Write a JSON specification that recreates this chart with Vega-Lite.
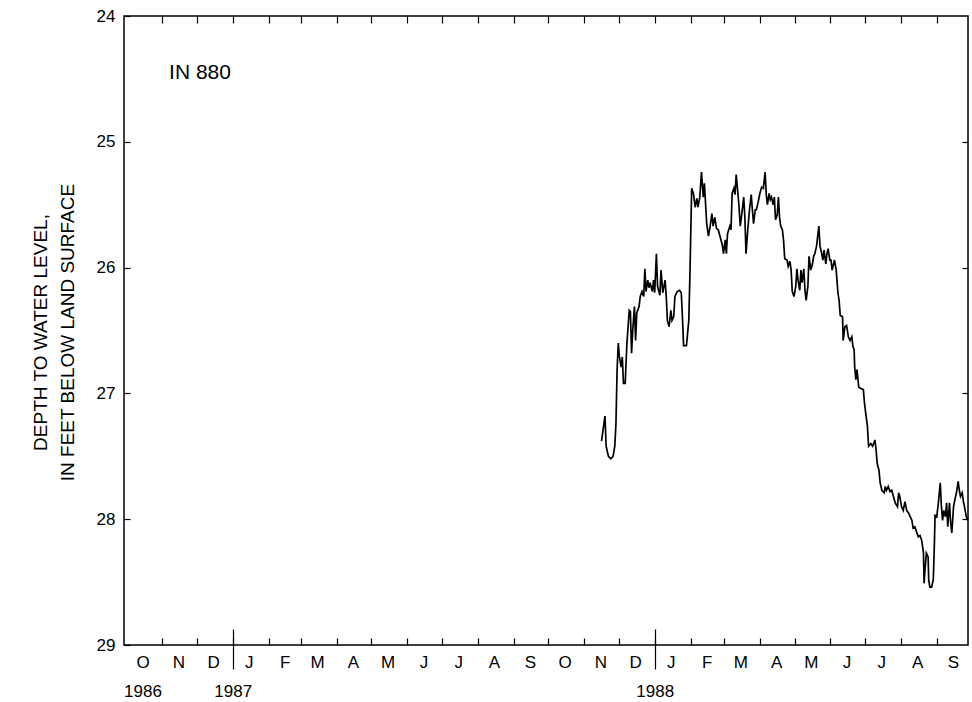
{
  "$schema": "https://vega.github.io/schema/vega-lite/v6.json",
  "autosize": {"type": "none"},
  "padding": {"left": 124, "top": 16, "right": 4, "bottom": 57},
  "width": 844,
  "height": 629,
  "background": "white",
  "config": {
    "font": "Liberation Sans",
    "view": {"stroke": "black", "strokeWidth": 1.5},
    "axis": {"labelColor": "black", "tickColor": "black", "titleColor": "black", "labelFont": "Liberation Sans", "titleFont": "Liberation Sans", "titleFontWeight": "normal", "grid": false, "domain": false, "tickWidth": 1.2}
  },
  "data": {"values": [
    {"date": "1987-11-16T00:00", "depth": 27.38},
    {"date": "1987-11-19T00:00", "depth": 27.18},
    {"date": "1987-11-20T00:00", "depth": 27.42},
    {"date": "1987-11-22T00:00", "depth": 27.50},
    {"date": "1987-11-24T00:00", "depth": 27.52},
    {"date": "1987-11-26T00:00", "depth": 27.50},
    {"date": "1987-11-27T12:00", "depth": 27.42},
    {"date": "1987-11-28T12:00", "depth": 27.24},
    {"date": "1987-11-29T12:00", "depth": 26.81},
    {"date": "1987-11-30T12:00", "depth": 26.60},
    {"date": "1987-12-01T12:00", "depth": 26.71},
    {"date": "1987-12-03T00:00", "depth": 26.79},
    {"date": "1987-12-04T00:00", "depth": 26.71},
    {"date": "1987-12-05T00:00", "depth": 26.92},
    {"date": "1987-12-06T12:00", "depth": 26.92},
    {"date": "1987-12-07T00:00", "depth": 26.81},
    {"date": "1987-12-08T00:00", "depth": 26.60},
    {"date": "1987-12-10T00:00", "depth": 26.34},
    {"date": "1987-12-11T00:00", "depth": 26.35},
    {"date": "1987-12-12T00:00", "depth": 26.68},
    {"date": "1987-12-13T00:00", "depth": 26.50},
    {"date": "1987-12-14T12:00", "depth": 26.31},
    {"date": "1987-12-15T12:00", "depth": 26.58},
    {"date": "1987-12-16T12:00", "depth": 26.36},
    {"date": "1987-12-18T12:00", "depth": 26.31},
    {"date": "1987-12-19T12:00", "depth": 26.23},
    {"date": "1987-12-21T00:00", "depth": 26.19},
    {"date": "1987-12-22T12:00", "depth": 26.23},
    {"date": "1987-12-23T12:00", "depth": 26.01},
    {"date": "1987-12-24T12:00", "depth": 26.19},
    {"date": "1987-12-26T00:00", "depth": 26.10},
    {"date": "1987-12-27T00:00", "depth": 26.16},
    {"date": "1987-12-28T00:00", "depth": 26.12},
    {"date": "1987-12-30T00:00", "depth": 26.19},
    {"date": "1987-12-31T00:00", "depth": 26.10},
    {"date": "1988-01-01T00:00", "depth": 26.20},
    {"date": "1988-01-02T12:00", "depth": 25.89},
    {"date": "1988-01-03T12:00", "depth": 26.15},
    {"date": "1988-01-05T12:00", "depth": 26.22},
    {"date": "1988-01-06T12:00", "depth": 26.02},
    {"date": "1988-01-08T00:00", "depth": 26.20},
    {"date": "1988-01-10T00:00", "depth": 26.10},
    {"date": "1988-01-11T00:00", "depth": 26.23},
    {"date": "1988-01-12T00:00", "depth": 26.42},
    {"date": "1988-01-13T12:00", "depth": 26.47},
    {"date": "1988-01-15T00:00", "depth": 26.34},
    {"date": "1988-01-16T00:00", "depth": 26.42},
    {"date": "1988-01-17T12:00", "depth": 26.39},
    {"date": "1988-01-18T12:00", "depth": 26.23},
    {"date": "1988-01-20T12:00", "depth": 26.19},
    {"date": "1988-01-22T12:00", "depth": 26.18},
    {"date": "1988-01-24T00:00", "depth": 26.20},
    {"date": "1988-01-25T00:00", "depth": 26.39},
    {"date": "1988-01-26T00:00", "depth": 26.62},
    {"date": "1988-01-28T12:00", "depth": 26.62},
    {"date": "1988-01-30T12:00", "depth": 26.42},
    {"date": "1988-01-31T12:00", "depth": 26.05},
    {"date": "1988-02-02T00:00", "depth": 25.37},
    {"date": "1988-02-03T12:00", "depth": 25.41},
    {"date": "1988-02-05T00:00", "depth": 25.52},
    {"date": "1988-02-06T12:00", "depth": 25.45},
    {"date": "1988-02-07T12:00", "depth": 25.52},
    {"date": "1988-02-09T00:00", "depth": 25.44},
    {"date": "1988-02-10T12:00", "depth": 25.24},
    {"date": "1988-02-12T00:00", "depth": 25.44},
    {"date": "1988-02-13T00:00", "depth": 25.33},
    {"date": "1988-02-14T00:00", "depth": 25.49},
    {"date": "1988-02-15T00:00", "depth": 25.65},
    {"date": "1988-02-16T12:00", "depth": 25.75},
    {"date": "1988-02-18T00:00", "depth": 25.67},
    {"date": "1988-02-19T12:00", "depth": 25.57},
    {"date": "1988-02-20T12:00", "depth": 25.67},
    {"date": "1988-02-22T00:00", "depth": 25.60},
    {"date": "1988-02-23T12:00", "depth": 25.69},
    {"date": "1988-02-25T00:00", "depth": 25.70},
    {"date": "1988-02-26T12:00", "depth": 25.75},
    {"date": "1988-02-28T12:00", "depth": 25.82},
    {"date": "1988-02-29T12:00", "depth": 25.89},
    {"date": "1988-03-02T00:00", "depth": 25.78},
    {"date": "1988-03-03T00:00", "depth": 25.89},
    {"date": "1988-03-04T00:00", "depth": 25.73},
    {"date": "1988-03-06T00:00", "depth": 25.67},
    {"date": "1988-03-07T00:00", "depth": 25.70},
    {"date": "1988-03-08T00:00", "depth": 25.41},
    {"date": "1988-03-09T12:00", "depth": 25.37},
    {"date": "1988-03-10T12:00", "depth": 25.42},
    {"date": "1988-03-11T12:00", "depth": 25.26},
    {"date": "1988-03-13T00:00", "depth": 25.41},
    {"date": "1988-03-14T00:00", "depth": 25.52},
    {"date": "1988-03-15T00:00", "depth": 25.67},
    {"date": "1988-03-16T00:00", "depth": 25.60},
    {"date": "1988-03-18T00:00", "depth": 25.44},
    {"date": "1988-03-19T00:00", "depth": 25.60},
    {"date": "1988-03-20T00:00", "depth": 25.89},
    {"date": "1988-03-21T12:00", "depth": 25.70},
    {"date": "1988-03-23T00:00", "depth": 25.54},
    {"date": "1988-03-24T12:00", "depth": 25.42},
    {"date": "1988-03-25T12:00", "depth": 25.54},
    {"date": "1988-03-26T12:00", "depth": 25.65},
    {"date": "1988-03-28T00:00", "depth": 25.54},
    {"date": "1988-03-29T00:00", "depth": 25.54},
    {"date": "1988-03-30T12:00", "depth": 25.48},
    {"date": "1988-04-01T00:00", "depth": 25.41},
    {"date": "1988-04-02T12:00", "depth": 25.36},
    {"date": "1988-04-04T00:00", "depth": 25.37},
    {"date": "1988-04-05T12:00", "depth": 25.24},
    {"date": "1988-04-06T12:00", "depth": 25.42},
    {"date": "1988-04-07T12:00", "depth": 25.50},
    {"date": "1988-04-09T00:00", "depth": 25.41},
    {"date": "1988-04-10T00:00", "depth": 25.46},
    {"date": "1988-04-11T00:00", "depth": 25.44},
    {"date": "1988-04-12T12:00", "depth": 25.50},
    {"date": "1988-04-13T12:00", "depth": 25.44},
    {"date": "1988-04-14T12:00", "depth": 25.62},
    {"date": "1988-04-16T00:00", "depth": 25.58},
    {"date": "1988-04-17T00:00", "depth": 25.44},
    {"date": "1988-04-18T00:00", "depth": 25.60},
    {"date": "1988-04-19T00:00", "depth": 25.67},
    {"date": "1988-04-20T12:00", "depth": 25.70},
    {"date": "1988-04-21T12:00", "depth": 25.79},
    {"date": "1988-04-22T12:00", "depth": 25.93},
    {"date": "1988-04-24T12:00", "depth": 25.94},
    {"date": "1988-04-25T12:00", "depth": 25.99},
    {"date": "1988-04-27T00:00", "depth": 25.95},
    {"date": "1988-04-28T00:00", "depth": 26.02},
    {"date": "1988-04-29T00:00", "depth": 26.19},
    {"date": "1988-04-30T12:00", "depth": 26.23},
    {"date": "1988-05-02T00:00", "depth": 26.15},
    {"date": "1988-05-03T00:00", "depth": 26.01},
    {"date": "1988-05-04T00:00", "depth": 26.10},
    {"date": "1988-05-05T12:00", "depth": 26.18},
    {"date": "1988-05-06T12:00", "depth": 26.02},
    {"date": "1988-05-07T12:00", "depth": 26.12},
    {"date": "1988-05-09T00:00", "depth": 26.01},
    {"date": "1988-05-10T00:00", "depth": 26.18},
    {"date": "1988-05-11T00:00", "depth": 26.26},
    {"date": "1988-05-12T12:00", "depth": 26.15},
    {"date": "1988-05-13T12:00", "depth": 25.91},
    {"date": "1988-05-15T00:00", "depth": 26.02},
    {"date": "1988-05-16T12:00", "depth": 25.97},
    {"date": "1988-05-17T12:00", "depth": 25.91},
    {"date": "1988-05-18T12:00", "depth": 25.89},
    {"date": "1988-05-20T00:00", "depth": 25.83},
    {"date": "1988-05-21T00:00", "depth": 25.75},
    {"date": "1988-05-22T00:00", "depth": 25.67},
    {"date": "1988-05-23T00:00", "depth": 25.83},
    {"date": "1988-05-24T12:00", "depth": 25.89},
    {"date": "1988-05-25T12:00", "depth": 25.94},
    {"date": "1988-05-26T12:00", "depth": 25.86},
    {"date": "1988-05-28T00:00", "depth": 25.97},
    {"date": "1988-05-29T00:00", "depth": 25.89},
    {"date": "1988-05-30T00:00", "depth": 25.85},
    {"date": "1988-05-31T12:00", "depth": 25.94},
    {"date": "1988-06-01T12:00", "depth": 25.94},
    {"date": "1988-06-02T12:00", "depth": 26.02},
    {"date": "1988-06-04T12:00", "depth": 25.94},
    {"date": "1988-06-06T00:00", "depth": 26.02},
    {"date": "1988-06-07T12:00", "depth": 26.20},
    {"date": "1988-06-08T12:00", "depth": 26.26},
    {"date": "1988-06-09T12:00", "depth": 26.38},
    {"date": "1988-06-11T12:00", "depth": 26.39},
    {"date": "1988-06-12T00:00", "depth": 26.58},
    {"date": "1988-06-13T12:00", "depth": 26.47},
    {"date": "1988-06-15T00:00", "depth": 26.46},
    {"date": "1988-06-16T12:00", "depth": 26.55},
    {"date": "1988-06-18T00:00", "depth": 26.58},
    {"date": "1988-06-19T12:00", "depth": 26.55},
    {"date": "1988-06-20T12:00", "depth": 26.63},
    {"date": "1988-06-21T12:00", "depth": 26.65},
    {"date": "1988-06-22T00:00", "depth": 26.79},
    {"date": "1988-06-23T00:00", "depth": 26.89},
    {"date": "1988-06-24T00:00", "depth": 26.81},
    {"date": "1988-06-25T12:00", "depth": 26.95},
    {"date": "1988-06-27T00:00", "depth": 26.96},
    {"date": "1988-06-29T12:00", "depth": 26.97},
    {"date": "1988-06-30T12:00", "depth": 27.08},
    {"date": "1988-07-02T00:00", "depth": 27.19},
    {"date": "1988-07-03T00:00", "depth": 27.26},
    {"date": "1988-07-04T00:00", "depth": 27.42},
    {"date": "1988-07-06T00:00", "depth": 27.40},
    {"date": "1988-07-07T12:00", "depth": 27.42},
    {"date": "1988-07-09T12:00", "depth": 27.37},
    {"date": "1988-07-10T12:00", "depth": 27.45},
    {"date": "1988-07-11T12:00", "depth": 27.56},
    {"date": "1988-07-13T00:00", "depth": 27.61},
    {"date": "1988-07-14T00:00", "depth": 27.71},
    {"date": "1988-07-15T12:00", "depth": 27.77},
    {"date": "1988-07-17T12:00", "depth": 27.79},
    {"date": "1988-07-18T12:00", "depth": 27.74},
    {"date": "1988-07-19T12:00", "depth": 27.77},
    {"date": "1988-07-21T00:00", "depth": 27.74},
    {"date": "1988-07-22T12:00", "depth": 27.78},
    {"date": "1988-07-24T00:00", "depth": 27.77},
    {"date": "1988-07-25T12:00", "depth": 27.82},
    {"date": "1988-07-27T00:00", "depth": 27.87},
    {"date": "1988-07-29T00:00", "depth": 27.90},
    {"date": "1988-07-30T00:00", "depth": 27.79},
    {"date": "1988-07-31T00:00", "depth": 27.82},
    {"date": "1988-08-01T12:00", "depth": 27.90},
    {"date": "1988-08-03T00:00", "depth": 27.93},
    {"date": "1988-08-04T12:00", "depth": 27.86},
    {"date": "1988-08-06T00:00", "depth": 27.93},
    {"date": "1988-08-07T12:00", "depth": 27.95},
    {"date": "1988-08-09T00:00", "depth": 27.98},
    {"date": "1988-08-10T12:00", "depth": 28.01},
    {"date": "1988-08-11T12:00", "depth": 28.07},
    {"date": "1988-08-13T00:00", "depth": 28.06},
    {"date": "1988-08-14T12:00", "depth": 28.10},
    {"date": "1988-08-16T00:00", "depth": 28.14},
    {"date": "1988-08-17T12:00", "depth": 28.13},
    {"date": "1988-08-19T00:00", "depth": 28.17},
    {"date": "1988-08-20T12:00", "depth": 28.27},
    {"date": "1988-08-21T00:00", "depth": 28.51},
    {"date": "1988-08-22T00:00", "depth": 28.38},
    {"date": "1988-08-23T00:00", "depth": 28.27},
    {"date": "1988-08-24T12:00", "depth": 28.30},
    {"date": "1988-08-25T00:00", "depth": 28.48},
    {"date": "1988-08-26T00:00", "depth": 28.54},
    {"date": "1988-08-27T12:00", "depth": 28.54},
    {"date": "1988-08-29T00:00", "depth": 28.48},
    {"date": "1988-08-30T00:00", "depth": 28.17},
    {"date": "1988-08-30T12:00", "depth": 27.97},
    {"date": "1988-09-01T00:00", "depth": 27.98},
    {"date": "1988-09-02T12:00", "depth": 27.86},
    {"date": "1988-09-04T00:00", "depth": 27.71},
    {"date": "1988-09-05T00:00", "depth": 27.90},
    {"date": "1988-09-06T00:00", "depth": 28.01},
    {"date": "1988-09-07T00:00", "depth": 27.93},
    {"date": "1988-09-08T12:00", "depth": 27.98},
    {"date": "1988-09-09T12:00", "depth": 27.87},
    {"date": "1988-09-10T12:00", "depth": 28.06},
    {"date": "1988-09-12T00:00", "depth": 27.87},
    {"date": "1988-09-13T00:00", "depth": 28.03},
    {"date": "1988-09-14T00:00", "depth": 28.11},
    {"date": "1988-09-15T12:00", "depth": 27.90},
    {"date": "1988-09-16T12:00", "depth": 27.85},
    {"date": "1988-09-18T00:00", "depth": 27.79},
    {"date": "1988-09-19T12:00", "depth": 27.70},
    {"date": "1988-09-20T12:00", "depth": 27.77},
    {"date": "1988-09-21T12:00", "depth": 27.82},
    {"date": "1988-09-23T00:00", "depth": 27.79},
    {"date": "1988-09-24T00:00", "depth": 27.86},
    {"date": "1988-09-25T00:00", "depth": 27.90},
    {"date": "1988-09-26T12:00", "depth": 27.98},
    {"date": "1988-09-28T00:00", "depth": 28.01}
  ]},
  "resolve": {"axis": {"x": "independent", "y": "independent"}},
  "layer": [
    {
      "mark": {"type": "line", "color": "black", "strokeWidth": 1.7, "interpolate": "linear", "clip": true},
      "encoding": {
        "x": {"field": "date", "type": "temporal",
          "scale": {"domain": [{"year": 1986, "month": 9, "date": 29}, {"year": 1988, "month": 9, "date": 28}]},
          "axis": {"orient": "bottom", "title": null, "labels": false, "tickSize": -7,
            "values": [
              {"year": 1986, "month": 11, "date": 1}, {"year": 1986, "month": 12, "date": 1},
              {"year": 1987, "month": 1, "date": 1}, {"year": 1987, "month": 2, "date": 1}, {"year": 1987, "month": 3, "date": 1}, {"year": 1987, "month": 4, "date": 1},
              {"year": 1987, "month": 5, "date": 1}, {"year": 1987, "month": 6, "date": 1}, {"year": 1987, "month": 7, "date": 1}, {"year": 1987, "month": 8, "date": 1},
              {"year": 1987, "month": 9, "date": 1}, {"year": 1987, "month": 10, "date": 1}, {"year": 1987, "month": 11, "date": 1}, {"year": 1987, "month": 12, "date": 1},
              {"year": 1988, "month": 1, "date": 1}, {"year": 1988, "month": 2, "date": 1}, {"year": 1988, "month": 3, "date": 1}, {"year": 1988, "month": 4, "date": 1},
              {"year": 1988, "month": 5, "date": 1}, {"year": 1988, "month": 6, "date": 1}, {"year": 1988, "month": 7, "date": 1}, {"year": 1988, "month": 8, "date": 1},
              {"year": 1988, "month": 9, "date": 1}
            ]}},
        "y": {"field": "depth", "type": "quantitative",
          "scale": {"domain": [24, 29], "reverse": true, "nice": false, "zero": false},
          "axis": {"orient": "left", "values": [24, 25, 26, 27, 28, 29], "tickSize": -6, "labelPadding": 15, "labelFontSize": 17, "format": "d",
            "title": ["DEPTH TO WATER LEVEL,", "IN FEET BELOW LAND SURFACE"], "titleFontSize": 19, "titleLineHeight": 27,
            "titleX": -84, "titleY": 316, "titleAngle": -90, "titleAlign": "center", "titleBaseline": "middle"}}
      }
    },
    {
      "mark": {"type": "point", "opacity": 0},
      "encoding": {
        "x": {"field": "date", "type": "temporal",
          "scale": {"domain": [{"year": 1986, "month": 9, "date": 29}, {"year": 1988, "month": 9, "date": 28}]},
          "axis": {"orient": "bottom", "title": null, "ticks": false, "labelPadding": 9, "labelFontSize": 17, "labelDx": 3, "labelFlush": false, "labelOverlap": false, "labelBound": false,
            "labelExpr": "substring(timeFormat(datum.value, '%b'), 0, 1)",
            "values": [
              {"year": 1986, "month": 10, "date": 15}, {"year": 1986, "month": 11, "date": 15}, {"year": 1986, "month": 12, "date": 15},
              {"year": 1987, "month": 1, "date": 15}, {"year": 1987, "month": 2, "date": 15}, {"year": 1987, "month": 3, "date": 15}, {"year": 1987, "month": 4, "date": 15},
              {"year": 1987, "month": 5, "date": 15}, {"year": 1987, "month": 6, "date": 15}, {"year": 1987, "month": 7, "date": 15}, {"year": 1987, "month": 8, "date": 15},
              {"year": 1987, "month": 9, "date": 15}, {"year": 1987, "month": 10, "date": 15}, {"year": 1987, "month": 11, "date": 15}, {"year": 1987, "month": 12, "date": 15},
              {"year": 1988, "month": 1, "date": 15}, {"year": 1988, "month": 2, "date": 15}, {"year": 1988, "month": 3, "date": 15}, {"year": 1988, "month": 4, "date": 15},
              {"year": 1988, "month": 5, "date": 15}, {"year": 1988, "month": 6, "date": 15}, {"year": 1988, "month": 7, "date": 15}, {"year": 1988, "month": 8, "date": 15},
              {"year": 1988, "month": 9, "date": 15}
            ]}},
        "y": {"field": "depth", "type": "quantitative",
          "scale": {"domain": [24, 29], "reverse": true, "nice": false, "zero": false},
          "axis": {"orient": "right", "values": [25, 26, 27, 28], "tickSize": -6, "labels": false, "title": null}}
      }
    },
    {
      "mark": {"type": "point", "opacity": 0},
      "encoding": {
        "x": {"field": "date", "type": "temporal",
          "scale": {"domain": [{"year": 1986, "month": 9, "date": 29}, {"year": 1988, "month": 9, "date": 28}]},
          "axis": {"orient": "bottom", "title": null, "labels": false, "tickSize": -16,
            "values": [{"year": 1987, "month": 1, "date": 1}, {"year": 1988, "month": 1, "date": 1}]}}
      }
    },
    {
      "mark": {"type": "point", "opacity": 0},
      "encoding": {
        "x": {"field": "date", "type": "temporal",
          "scale": {"domain": [{"year": 1986, "month": 9, "date": 29}, {"year": 1988, "month": 9, "date": 28}]},
          "axis": {"orient": "bottom", "title": null, "labels": false, "tickSize": 24,
            "values": [{"year": 1987, "month": 1, "date": 1}, {"year": 1988, "month": 1, "date": 1}]}}
      }
    },
    {
      "mark": {"type": "point", "opacity": 0},
      "encoding": {
        "x": {"field": "date", "type": "temporal",
          "scale": {"domain": [{"year": 1986, "month": 9, "date": 29}, {"year": 1988, "month": 9, "date": 28}]},
          "axis": {"orient": "bottom", "title": null, "ticks": false, "labelPadding": 38, "labelFontSize": 17, "labelFlush": false, "labelOverlap": false, "labelBound": false,
            "labelExpr": "timeFormat(datum.value, '%Y')",
            "values": [{"year": 1986, "month": 10, "date": 15}, {"year": 1987, "month": 1, "date": 1}, {"year": 1988, "month": 1, "date": 1}]}}
      }
    },
    {
      "mark": {"type": "point", "opacity": 0},
      "encoding": {
        "x": {"field": "date", "type": "temporal",
          "scale": {"domain": [{"year": 1986, "month": 9, "date": 29}, {"year": 1988, "month": 9, "date": 28}]},
          "axis": {"orient": "top", "title": null, "labels": false, "tickSize": -7,
            "values": [
              {"year": 1986, "month": 11, "date": 1}, {"year": 1986, "month": 12, "date": 1},
              {"year": 1987, "month": 1, "date": 1}, {"year": 1987, "month": 2, "date": 1}, {"year": 1987, "month": 3, "date": 1}, {"year": 1987, "month": 4, "date": 1},
              {"year": 1987, "month": 5, "date": 1}, {"year": 1987, "month": 6, "date": 1}, {"year": 1987, "month": 7, "date": 1}, {"year": 1987, "month": 8, "date": 1},
              {"year": 1987, "month": 9, "date": 1}, {"year": 1987, "month": 10, "date": 1}, {"year": 1987, "month": 11, "date": 1}, {"year": 1987, "month": 12, "date": 1},
              {"year": 1988, "month": 1, "date": 1}, {"year": 1988, "month": 2, "date": 1}, {"year": 1988, "month": 3, "date": 1}, {"year": 1988, "month": 4, "date": 1},
              {"year": 1988, "month": 5, "date": 1}, {"year": 1988, "month": 6, "date": 1}, {"year": 1988, "month": 7, "date": 1}, {"year": 1988, "month": 8, "date": 1},
              {"year": 1988, "month": 9, "date": 1}
            ]}}
      }
    },
    {
      "data": {"values": [{"label": "IN 880"}]},
      "mark": {"type": "text", "align": "left", "baseline": "middle", "fontSize": 21, "font": "Liberation Sans", "color": "black"},
      "encoding": {
        "x": {"datum": {"year": 1986, "month": 11, "date": 7}, "type": "temporal", "axis": null,
          "scale": {"domain": [{"year": 1986, "month": 9, "date": 29}, {"year": 1988, "month": 9, "date": 28}]}},
        "y": {"datum": 24.45, "type": "quantitative", "axis": null,
          "scale": {"domain": [24, 29], "reverse": true, "nice": false, "zero": false}},
        "text": {"field": "label"}
      }
    }
  ]
}
